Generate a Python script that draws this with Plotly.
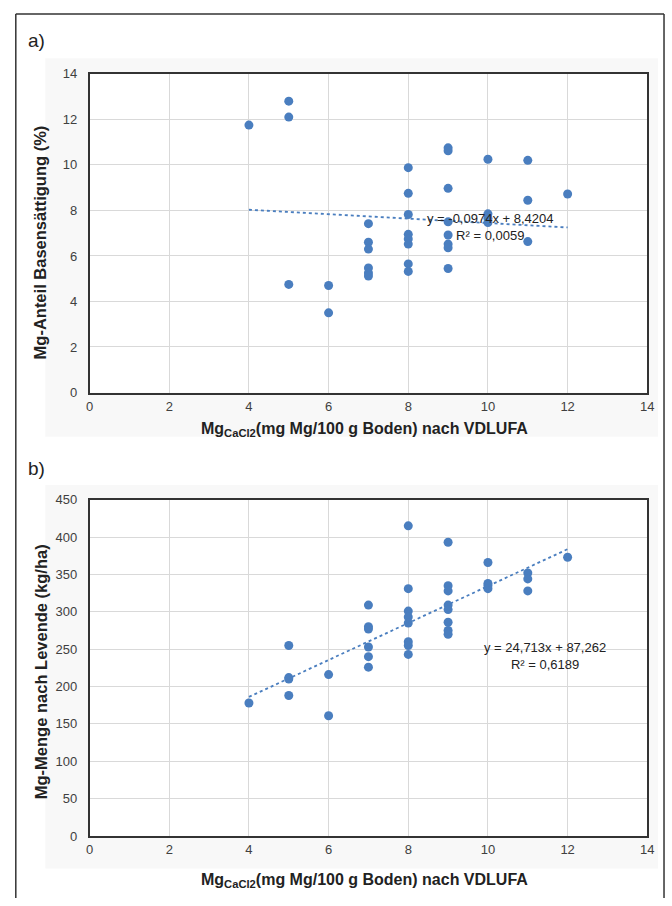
import plotly.graph_objects as go

# ---- data ----
xa = [4, 5, 5, 5, 6, 6,
      7, 7, 7, 7, 7, 7,
      8, 8, 8, 8, 8, 8, 8, 8,
      9, 9, 9, 9, 9, 9, 9, 9,
      10, 10, 10, 10,
      11, 11, 11, 12]
ya = [11.75, 12.8, 12.1, 4.75, 4.7, 3.5,
      7.42, 6.6, 6.3, 5.47, 5.25, 5.12,
      9.88, 8.75, 7.82, 6.95, 6.75, 6.52, 5.65, 5.32,
      10.75, 10.62, 8.97, 7.5, 6.92, 6.52, 6.36, 5.45,
      10.25, 7.85, 7.65, 7.47,
      10.2, 8.45, 6.63, 8.72]

xb = [4, 5, 5, 5, 5, 6, 6,
      7, 7, 7, 7, 7, 7,
      8, 8, 8, 8, 8, 8, 8, 8,
      9, 9, 9, 9, 9, 9, 9, 9,
      10, 10, 10, 10,
      11, 11, 11, 12]
yb = [178, 255, 212, 210, 188, 216, 161,
      309, 280, 277, 253, 240, 226,
      415, 331, 301, 293, 285, 260, 255, 243,
      393, 335, 328, 309, 303, 286, 275, 270,
      366, 338, 335, 331,
      352, 344, 328, 373]

trend_a = [-0.0974, 8.4204]   # slope, intercept
trend_b = [24.713, 87.262]
trend_x = [4, 12]

x_ticks = [0, 2, 4, 6, 8, 10, 12, 14]
ya_ticks = [0, 2, 4, 6, 8, 10, 12, 14]
yb_ticks = [0, 50, 100, 150, 200, 250, 300, 350, 400, 450]

eq_a = ["y = -0,0974x + 8,4204", "R² = 0,0059"]
eq_b = ["y = 24,713x + 87,262", "R² = 0,6189"]
xtitle = "Mg<sub>CaCl2</sub>(mg Mg/100 g Boden) nach VDLUFA"
ytitle_a = "Mg-Anteil Basensättigung (%)"
ytitle_b = "Mg-Menge nach Levende (kg/ha)"

# ---- figure ----
W, H = 672, 906
BLUE = "#4a7ebf"
FONT = "Liberation Sans, Arial, sans-serif"

def px(x):
    return x / W

def py(y):
    return 1 - y / H

fig = go.Figure()

fig.add_trace(go.Scatter(x=xa, y=ya, mode="markers", xaxis="x", yaxis="y",
                         marker=dict(color=BLUE, size=9), showlegend=False))
fig.add_trace(go.Scatter(x=trend_x, y=[trend_a[0] * v + trend_a[1] for v in trend_x],
                         mode="lines", xaxis="x", yaxis="y",
                         line=dict(color=BLUE, width=1.8, dash="dot"), showlegend=False))
fig.add_trace(go.Scatter(x=xb, y=yb, mode="markers", xaxis="x2", yaxis="y2",
                         marker=dict(color=BLUE, size=9), showlegend=False))
fig.add_trace(go.Scatter(x=trend_x, y=[trend_b[0] * v + trend_b[1] for v in trend_x],
                         mode="lines", xaxis="x2", yaxis="y2",
                         line=dict(color=BLUE, width=1.8, dash="dot"), showlegend=False))

common_x = dict(range=[0, 14], tickvals=x_ticks, showgrid=True, gridcolor="#d9d9d9",
                gridwidth=1, zeroline=False, showline=True, linecolor="#333333",
                linewidth=1.6, mirror=True, ticks="outside", ticklen=1,
                tickcolor="rgba(0,0,0,0)", tickfont=dict(size=13, color="#404040", family=FONT),
                domain=[px(87), px(654)], fixedrange=True)
common_y = dict(showgrid=True, gridcolor="#d9d9d9", gridwidth=1, zeroline=False,
                showline=True, linecolor="#333333", linewidth=1.6, mirror=True,
                ticks="outside", ticklen=8, tickcolor="rgba(0,0,0,0)",
                tickfont=dict(size=13, color="#404040", family=FONT), fixedrange=True)

fig.update_layout(
    width=W, height=H,
    margin=dict(l=0, r=0, t=0, b=0),
    paper_bgcolor="white", plot_bgcolor="white",
    xaxis=dict(**common_x, anchor="y"),
    yaxis=dict(**common_y, range=[0, 14], tickvals=ya_ticks, anchor="x",
               domain=[py(392), py(68)]),
    xaxis2=dict(**common_x, anchor="y2"),
    yaxis2=dict(**common_y, range=[0, 450], tickvals=yb_ticks, anchor="x2",
                domain=[py(843), py(501)]),
    font=dict(family=FONT),
)

shapes = [
    # light grey chart-area backgrounds
    dict(type="rect", xref="paper", yref="paper", x0=px(42), x1=px(665), y0=py(437), y1=py(52),
         fillcolor="#f8f8f8", line=dict(width=0), layer="below"),
    dict(type="rect", xref="paper", yref="paper", x0=px(42), x1=px(665), y0=py(876), y1=py(486),
         fillcolor="#f8f8f8", line=dict(width=0), layer="below"),
    # white plot areas
    dict(type="rect", xref="paper", yref="paper", x0=px(87), x1=px(654), y0=py(392), y1=py(68),
         fillcolor="white", line=dict(width=0), layer="below"),
    dict(type="rect", xref="paper", yref="paper", x0=px(87), x1=px(654), y0=py(843), y1=py(501),
         fillcolor="white", line=dict(width=0), layer="below"),
    # outer frame
    dict(type="line", xref="paper", yref="paper", x0=px(12), x1=px(12), y0=0, y1=py(7),
         line=dict(color="#333333", width=1.5)),
    dict(type="line", xref="paper", yref="paper", x0=px(12), x1=px(671), y0=py(7), y1=py(7),
         line=dict(color="#333333", width=1.5)),
    dict(type="line", xref="paper", yref="paper", x0=px(671), x1=px(671), y0=0, y1=py(7),
         line=dict(color="#333333", width=1.5)),
]
fig.update_layout(shapes=shapes)

ann = []
ann.append(dict(text="a)", xref="paper", yref="paper", x=px(22), y=py(34), xanchor="left",
                yanchor="middle", showarrow=False, font=dict(size=19, color="#222222")))
ann.append(dict(text="b)", xref="paper", yref="paper", x=px(22), y=py(469), xanchor="left",
                yanchor="middle", showarrow=False, font=dict(size=19, color="#222222")))
for yy in (430, 888):
    ann.append(dict(text=xtitle, xref="paper", yref="paper", x=px(367), y=py(yy),
                    xanchor="center", yanchor="middle", showarrow=False,
                    font=dict(size=16, color="#222222", weight="bold")))
ann.append(dict(text=ytitle_a, xref="paper", yref="paper", x=px(37), y=py(239),
                xanchor="center", yanchor="middle", textangle=-90, showarrow=False,
                font=dict(size=16.5, color="#222222", weight="bold")))
ann.append(dict(text=ytitle_b, xref="paper", yref="paper", x=px(37), y=py(676),
                xanchor="center", yanchor="middle", textangle=-90, showarrow=False,
                font=dict(size=16.5, color="#222222", weight="bold")))
ann.append(dict(text=eq_a[0] + "<br>" + eq_a[1], xref="paper", yref="paper",
                x=px(494), y=py(224), xanchor="center", yanchor="middle", showarrow=False,
                align="center", font=dict(size=13, color="#222222")))
ann.append(dict(text=eq_b[0] + "<br>" + eq_b[1], xref="paper", yref="paper",
                x=px(550), y=py(660), xanchor="center", yanchor="middle", showarrow=False,
                align="center", font=dict(size=13, color="#222222")))
fig.update_layout(annotations=ann)

fig.write_html("out.html")
